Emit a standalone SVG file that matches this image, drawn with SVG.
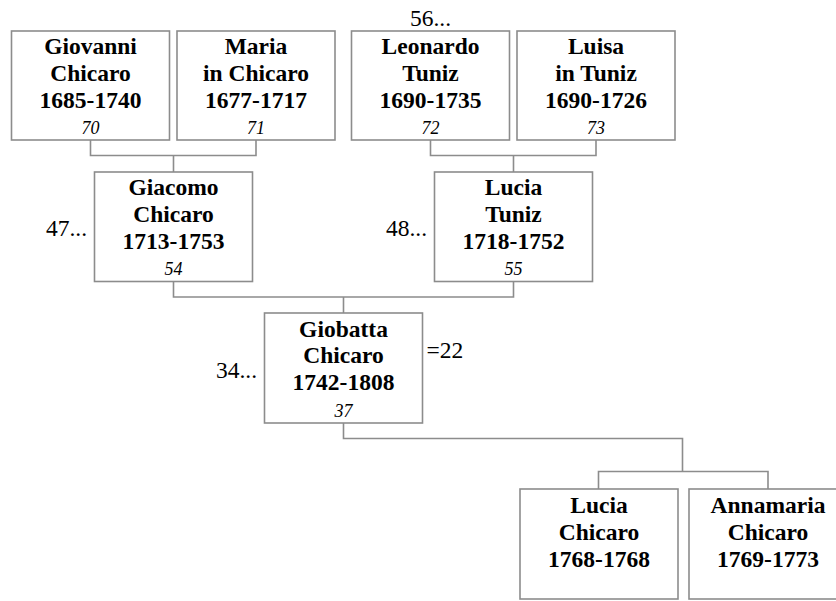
<svg xmlns="http://www.w3.org/2000/svg" width="836" height="601" viewBox="0 0 836 601">
<style>
.box{fill:#fff;stroke:#8c8c8c;stroke-width:1.6}
.con{fill:none;stroke:#8c8c8c;stroke-width:1.6}
text{font-family:'Liberation Serif','DejaVu Serif',serif;fill:#000}
.n{font-weight:bold;font-size:23.5px;text-anchor:middle}
.i{font-style:italic;font-size:18px;text-anchor:middle}
.s{font-size:23.5px}
</style>
<rect width="836" height="601" fill="#fff"/>
<g id="connectors">
<path class="con" d="M90.5,140 V155.5 H256 V140 M173.5,155.5 V172"/>
<path class="con" d="M430.5,140 V155.5 H596 V140 M513.5,155.5 V172"/>
<path class="con" d="M173.5,281.5 V297 H513.5 V281.5 M343.5,297 V313"/>
<path class="con" d="M343.5,423 V438.5 H682.5 V471.5 M598.5,489 V471.5 H768 V489"/>
</g>
<g id="giovanni">
<rect class="box" x="11.5" y="31" width="158" height="109"/>
<text class="n" x="90.5" y="54">Giovanni</text>
<text class="n" x="90.5" y="81">Chicaro</text>
<text class="n" x="90.5" y="107.5">1685-1740</text>
<text class="i" x="90.5" y="134">70</text>
</g>
<g id="maria">
<rect class="box" x="177" y="31" width="158" height="109"/>
<text class="n" x="256" y="54">Maria</text>
<text class="n" x="256" y="81">in Chicaro</text>
<text class="n" x="256" y="107.5">1677-1717</text>
<text class="i" x="256" y="134">71</text>
</g>
<g id="leonardo">
<text class="s" x="430.5" y="26" text-anchor="middle">56...</text>
<rect class="box" x="351.5" y="31" width="158" height="109"/>
<text class="n" x="430.5" y="54">Leonardo</text>
<text class="n" x="430.5" y="81">Tuniz</text>
<text class="n" x="430.5" y="107.5">1690-1735</text>
<text class="i" x="430.5" y="134">72</text>
</g>
<g id="luisa">
<rect class="box" x="517" y="31" width="158" height="109"/>
<text class="n" x="596" y="54">Luisa</text>
<text class="n" x="596" y="81">in Tuniz</text>
<text class="n" x="596" y="107.5">1690-1726</text>
<text class="i" x="596" y="134">73</text>
</g>
<g id="giacomo">
<text class="s" x="87" y="236" text-anchor="end">47...</text>
<rect class="box" x="94.5" y="172" width="158" height="109.5"/>
<text class="n" x="173.5" y="195">Giacomo</text>
<text class="n" x="173.5" y="222">Chicaro</text>
<text class="n" x="173.5" y="249">1713-1753</text>
<text class="i" x="173.5" y="275">54</text>
</g>
<g id="lucia_tuniz">
<text class="s" x="427" y="236" text-anchor="end">48...</text>
<rect class="box" x="434.5" y="172" width="158" height="109.5"/>
<text class="n" x="513.5" y="195">Lucia</text>
<text class="n" x="513.5" y="222">Tuniz</text>
<text class="n" x="513.5" y="249">1718-1752</text>
<text class="i" x="513.5" y="275">55</text>
</g>
<g id="giobatta">
<text class="s" x="257" y="378" text-anchor="end">34...</text>
<text class="s" x="426.5" y="358">=22</text>
<rect class="box" x="264.5" y="313" width="158" height="110"/>
<text class="n" x="343.5" y="336.5">Giobatta</text>
<text class="n" x="343.5" y="363">Chicaro</text>
<text class="n" x="343.5" y="390">1742-1808</text>
<text class="i" x="343.5" y="416.5">37</text>
</g>
<g id="lucia_chicaro">
<rect class="box" x="520" y="489" width="158" height="110"/>
<text class="n" x="599" y="513">Lucia</text>
<text class="n" x="599" y="540">Chicaro</text>
<text class="n" x="599" y="566.5">1768-1768</text>
</g>
<g id="annamaria">
<rect class="box" x="689" y="489" width="158" height="110"/>
<text class="n" x="768" y="513">Annamaria</text>
<text class="n" x="768" y="540">Chicaro</text>
<text class="n" x="768" y="566.5">1769-1773</text>
</g>
</svg>
